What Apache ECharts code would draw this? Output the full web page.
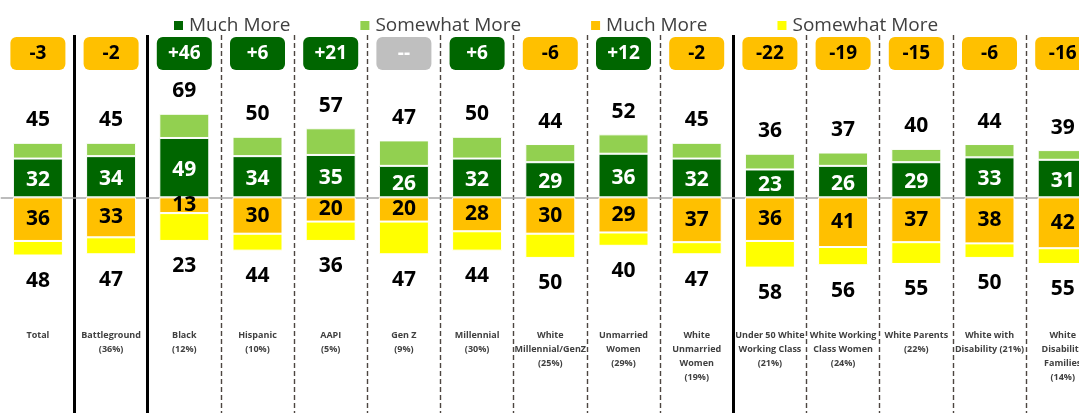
<!DOCTYPE html>
<html><head><meta charset="utf-8">
<script src="https://cdn.jsdelivr.net/npm/echarts@6/dist/echarts.min.js"></script>
<style>html,body{margin:0;padding:0;background:#fff}#c{width:1079px;height:413px}</style>
</head><body><div id="c"></div>
<script>
const categories = ['Total','Battleground\n(36%)','Black\n(12%)','Hispanic\n(10%)','AAPI\n(5%)','Gen Z\n(9%)','Millennial\n(30%)','White\nMillennial/GenZ\n(25%)','Unmarried\nWomen\n(29%)','White\nUnmarried\nWomen\n(19%)','Under 50 White\nWorking Class\n(21%)','White Working\nClass Women\n(24%)','White Parents\n(22%)','White with\nDisability (21%)','White\nDisability\nFamilies\n(14%)'];
const muchMore      = [32,34,49,34,35,26,32,29,36,32,23,26,29,33,31];
const somewhatMore  = [13,11,20,16,22,21,18,15,16,13,13,11,11,11,8];
const moreTotals    = [45,45,69,50,57,47,50,44,52,45,36,37,40,44,39];
const muchLess      = [36,33,13,30,20,20,28,30,29,37,36,41,37,38,42];
const somewhatLess  = [12,14,23,14,16,27,16,20,11,10,22,15,18,12,13];
const lessTotals    = [48,47,23,44,36,47,44,50,40,47,58,56,55,50,55];
const netLabels     = ['-3','-2','+46','+6','+21','--','+6','-6','+12','-2','-22','-19','-15','-6','-16'];
const solidBefore   = [1,2,10];
const legendText = {muchPos:'Much More', somePos:'Somewhat More', muchNeg:'Much More', someNeg:'Somewhat More'};

const FONT = '"Open Sans", "Noto Sans", sans-serif';
const chart = echarts.init(document.getElementById('c'));
const badge = (bg, fg) => ({backgroundColor:bg, color:fg, fontSize:19, fontWeight:'bold', fontFamily:FONT,
  width:55, height:33, lineHeight:33, align:'center', borderRadius:6});
const badgeKey = s => s === '--' ? 'n' : (s[0] === '+' ? 'g' : 'o');
const numLabel = {fontSize:21, fontWeight:'bold', fontFamily:FONT};

chart.setOption({
  animation:false,
  grid:{left:1.3, right:-20.3, top:35, bottom:0, containLabel:false, outerBoundsMode:'none'},
  legend:{
    data:['muchPos','somePos','muchNeg','someNeg'],
    formatter: n => legendText[n],
    left:167, top:11, icon:'rect', itemWidth:11, itemHeight:11, itemGap:68,
    textStyle:{fontSize:19, color:'#404040', fontFamily:FONT}
  },
  xAxis:[
    {type:'category', data:categories, position:'bottom',
     axisLine:{onZero:true, lineStyle:{color:'#A6A6A6', width:1.5}},
     axisTick:{show:false},
     axisLabel:{interval:0, inside:true, margin:85, verticalAlign:'top', fontSize:9, lineHeight:14, fontWeight:'bold', color:'#404040', fontFamily:FONT},
     splitLine:{show:true, interval:(i)=> i>0 && solidBefore.indexOf(i)<0,
       lineStyle:{type:[5,3], color:'#4d4540', width:1.4}}},
    {type:'category', data:categories, position:'top',
     axisLine:{show:false, onZero:false}, axisTick:{show:false},
     axisLabel:{interval:0, inside:true, margin:2,
       formatter:(v,i)=> '{'+badgeKey(netLabels[i])+'|'+netLabels[i]+'}',
       rich:{g:badge('#006600','#fff'), o:badge('#FFC000','#000'), n:badge('#BFBFBF','#fff')}},
     splitLine:{show:true, interval:(i)=> solidBefore.indexOf(i)>=0, lineStyle:{color:'#000', width:3}}}
  ],
  yAxis:{type:'value', min:-178, max:134, show:false},
  series:[
    {name:'muchPos', type:'bar', stack:'s', barWidth:50, data:muchMore,
     itemStyle:{color:'#006600', borderColor:'#fff', borderWidth:1},
     label:Object.assign({show:true, position:'inside', color:'#fff', offset:[0,2]}, numLabel)},
    {name:'somePos', type:'bar', stack:'s', barWidth:50, data:somewhatMore,
     itemStyle:{color:'#92D050', borderColor:'#fff', borderWidth:1},
     label:Object.assign({show:true, position:'top', distance:12, color:'#000', formatter:p=>moreTotals[p.dataIndex]}, numLabel)},
    {name:'muchNeg', type:'bar', stack:'s', barWidth:50, data:muchLess.map(v=>-v),
     itemStyle:{color:'#FFC000', borderColor:'#fff', borderWidth:1},
     label:Object.assign({show:true, position:'inside', color:'#000', formatter:p=>muchLess[p.dataIndex]}, numLabel)},
    {name:'someNeg', type:'bar', stack:'s', barWidth:50, data:somewhatLess.map(v=>-v),
     itemStyle:{color:'#FFFF00', borderColor:'#fff', borderWidth:1},
     label:Object.assign({show:true, position:'bottom', distance:15, color:'#000', formatter:p=>lessTotals[p.dataIndex]}, numLabel)}
  ]
});
</script></body></html>
